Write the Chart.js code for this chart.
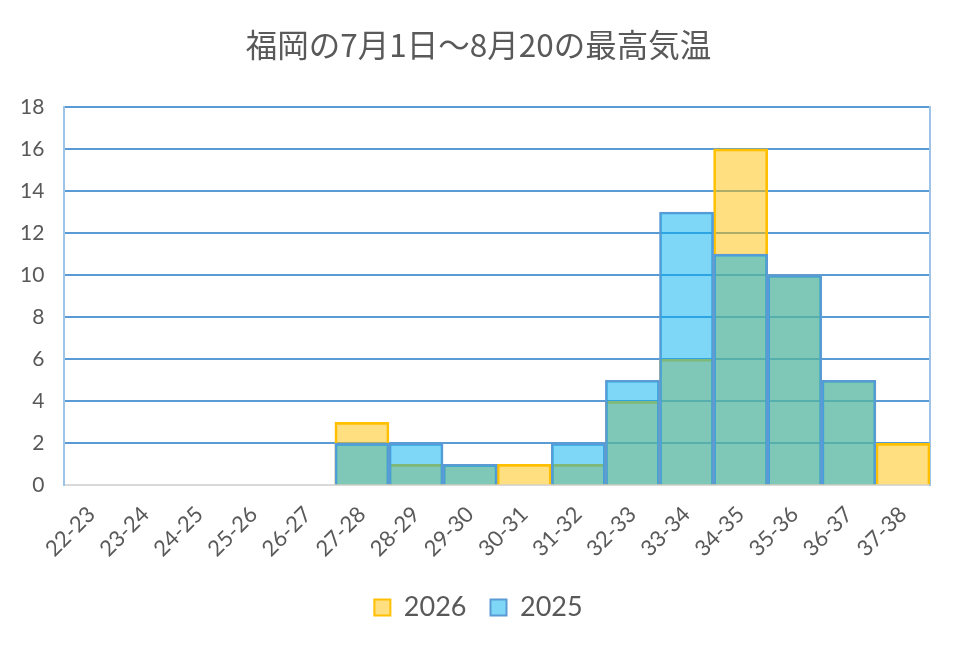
<!DOCTYPE html>
<html>
<head>
<meta charset="utf-8">
<script src="https://cdn.jsdelivr.net/npm/chart.js@4"></script>
<style>
  html, body { margin: 0; padding: 0; background: #fff; }
  #wrap { width: 957px; height: 649px; }
</style>
</head>
<body>
<div id="wrap"><canvas id="histChart"></canvas></div>
<script>
const tempRanges = ['22-23', '23-24', '24-25', '25-26', '26-27', '27-28', '28-29', '29-30',
                    '30-31', '31-32', '32-33', '33-34', '34-35', '35-36', '36-37', '37-38'];
const days2026 = [0, 0, 0, 0, 0, 3, 1, 1, 1, 1, 4, 6, 16, 10, 5, 2];
const days2025 = [0, 0, 0, 0, 0, 2, 2, 1, 0, 2, 5, 13, 11, 10, 5, 0];
const yTicks = [0, 2, 4, 6, 8, 10, 12, 14, 16, 18];

const textColor = '#595959';
const numFont = 'Lato, "Open Sans", sans-serif';
const frameColor = '#9DC3E6';

new Chart(document.getElementById('histChart'), {
    type: 'bar',
    data: {
        labels: tempRanges,
        datasets: [
            {
                label: '2025',
                data: days2025,
                backgroundColor: 'rgba(0, 176, 240, 0.5)',
                borderColor: '#5B9BD5',
                borderWidth: 2,
                grouped: false,
                categoryPercentage: 1,
                barPercentage: 1
            },
            {
                label: '2026',
                data: days2026,
                backgroundColor: 'rgba(255, 192, 0, 0.5)',
                borderColor: '#FFC000',
                borderWidth: 2,
                grouped: false,
                categoryPercentage: 1,
                barPercentage: 1
            }
        ]
    },
    options: {
        responsive: true,
        maintainAspectRatio: false,
        animation: false,
        layout: { padding: { left: 0, right: 0, top: 8, bottom: 18 } },
        plugins: {
            title: {
                display: true,
                text: '福岡の7月1日～8月20の最高気温',
                color: textColor,
                font: { family: '"Noto Sans CJK JP", sans-serif', size: 31.5, weight: 'normal' },
                padding: { top: 18, bottom: 43 }
            },
            legend: {
                position: 'bottom',
                labels: {
                    color: textColor,
                    font: { family: numFont, size: 27 },
                    boxWidth: 16,
                    boxHeight: 16,
                    padding: 24,
                    sort: (a, b) => b.datasetIndex - a.datasetIndex
                }
            },
            tooltip: { enabled: false }
        },
        scales: {
            x: {
                grid: { display: false },
                border: { color: '#D9D9D9', width: 2 },
                ticks: {
                    color: textColor,
                    font: { family: numFont, size: 22 },
                    maxRotation: 45,
                    minRotation: 45,
                    autoSkip: false,
                    padding: 8
                }
            },
            y: {
                min: yTicks[0],
                max: yTicks[yTicks.length - 1],
                afterBuildTicks: axis => { axis.ticks = yTicks.map(v => ({ value: v })); },
                grid: {
                    color: ctx => ctx.tick && ctx.tick.value === 0 ? '#D9D9D9' : '#5B9BD5',
                    lineWidth: 2,
                    drawTicks: false
                },
                border: { color: frameColor, width: 2 },
                ticks: {
                    color: textColor,
                    font: { family: numFont, size: 21 },
                    padding: 20
                }
            },
            // empty right axis: only its border line closes the plot frame
            yRight: {
                type: 'linear',
                position: 'right',
                min: yTicks[0],
                max: yTicks[yTicks.length - 1],
                grid: { drawOnChartArea: false, drawTicks: false },
                border: { color: frameColor, width: 2 },
                ticks: { display: false },
                afterFit: axis => { axis.width = 27; }
            }
        }
    }
});
</script>
</body>
</html>
